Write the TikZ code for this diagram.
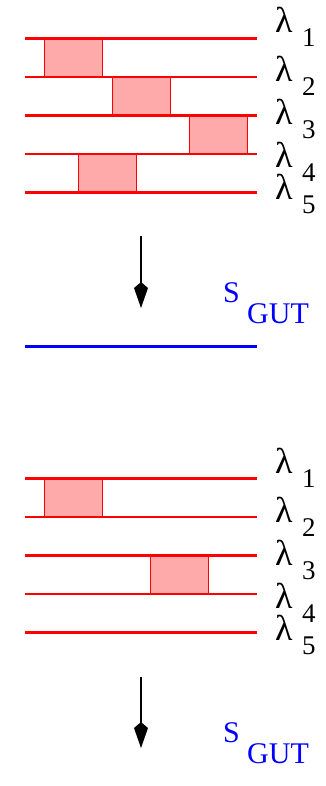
\documentclass[tikz,border=0pt]{standalone}
\usepackage{fontspec}
\setmainfont{Liberation Serif}
\usetikzlibrary{arrows.meta}

\tikzset{
  level/.style={red,line width=2.5pt},
  mixbox/.style={draw=red,line width=0.8pt,fill={rgb,255:red,255;green,170;blue,170}},
  lamlabel/.style={anchor=base west,inner sep=0pt,font=\fontsize{36}{36}\selectfont},
  lamindex/.style={anchor=base west,inner sep=0pt,font=\fontsize{27}{27}\selectfont},
  gutlabel/.style={anchor=base west,inner sep=0pt,text=blue,font=\fontsize{30}{30}\selectfont},
  flow/.style={line width=2pt,-{Kite[length=26pt,width=14pt,inset=6pt]}},
  gutline/.style={blue,line width=2.5pt}
}

\begin{document}
\begin{tikzpicture}[x=1pt,y=-1pt]
    \useasboundingbox (0,0) rectangle (325,786);
    % five levels, four mixings, then the GUT scale
    \begin{scope}[name prefix=top-]
      \foreach \xa/\xb/\n in {44.7/102/1,112/170/2,189/247/3,78.3/136/4} {\draw[mixbox] (\xa,{38.5*\n}) rectangle (\xb,{38.5*(\n+1)});}
      \foreach \k in {1,...,5} {\draw[level] (25,{38.5*\k}) -- (257,{38.5*\k});}
      \foreach \k/\yb in {1/33,2/82,3/125,4/168,5/200} {
        \node[lamlabel] (lam\k) at (275,\yb) {λ};
        \node[lamindex] (idx\k) at (302,\yb+14) {\k};
      }
      \coordinate (from) at (141,236);
      \coordinate (to) at (141,308);
      \draw[flow] (from) -- (to);
      \node[gutlabel] (s) at (223,302) {S};
      \node[gutlabel] (gut) at (247,323) {GUT};
      \coordinate (gl) at (25,346.5);
      \coordinate (gr) at (257,346.5);
      \draw[gutline] (gl) -- (gr);
    \end{scope}
    % five levels, two mixings
    \begin{scope}[shift={(0,440)},name prefix=bot-]
      \foreach \xa/\xb/\n in {44.7/102/1,150.3/208.3/3} {\draw[mixbox] (\xa,{38.5*\n}) rectangle (\xb,{38.5*(\n+1)});}
      \foreach \k in {1,...,5} {\draw[level] (25,{38.5*\k}) -- (257,{38.5*\k});}
      \foreach \k/\yb in {1/33,2/82,3/125,4/168,5/200} {
        \node[lamlabel] (lam\k) at (275,\yb) {λ};
        \node[lamindex] (idx\k) at (302,\yb+14) {\k};
      }
      \coordinate (from) at (141,236.7);
      \coordinate (to) at (141,308);
      \draw[flow] (from) -- (to);
      \node[gutlabel] (s) at (223,302) {S};
      \node[gutlabel] (gut) at (247,323) {GUT};
    \end{scope}
\end{tikzpicture}
\end{document}
